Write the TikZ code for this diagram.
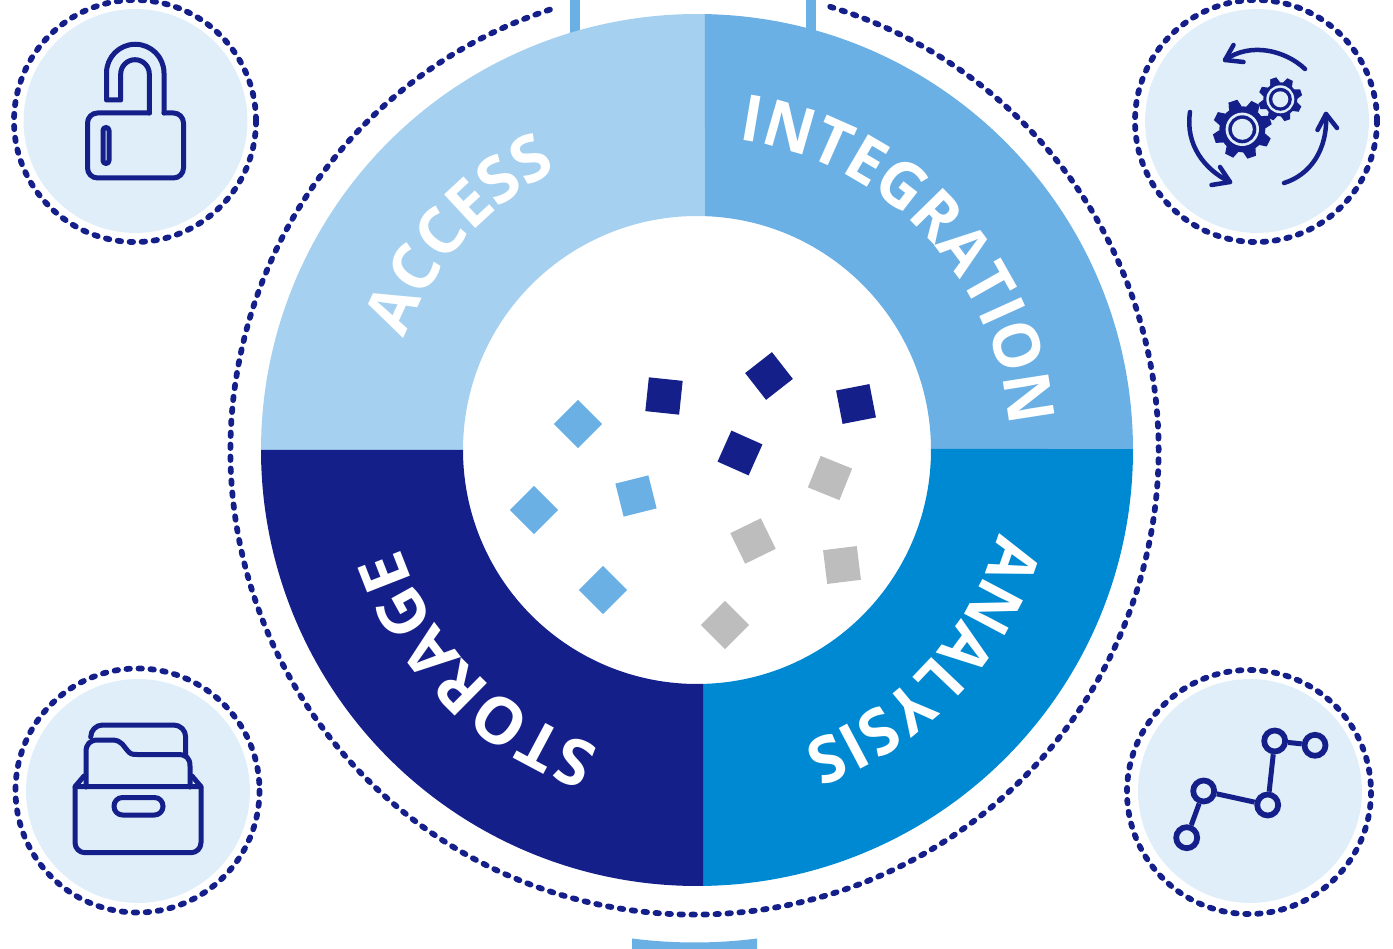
\documentclass[tikz,border=0pt]{standalone}
\usepackage{xcolor}
\usepackage{fontspec}
\usepackage{tikz}
\usetikzlibrary{calc,decorations.text}

\newfontfamily\ringfamily{Open Sans}
\newfontfamily\ringtight[FakeStretch=0.965]{Open Sans}
\newcommand{\ringtype}{\fontsize{36.6}{40}\ringfamily\bfseries\color{white}}
\newcommand{\ringtypetight}{\fontsize{36.6}{40}\ringtight\bfseries\color{white}}

\definecolor{navy}{HTML}{151F8A}
\definecolor{analysisblue}{HTML}{0089D3}
\definecolor{midblue}{HTML}{6BB0E4}
\definecolor{lightblue}{HTML}{A5D0F0}
\definecolor{pale}{HTML}{DFEEF8}
\definecolor{chipgray}{HTML}{BDBDBD}

\begin{document}
\begin{tikzpicture}[
    x=0.02cm, y=-0.02cm,
    badge/.style={circle, fill=pale, minimum size=4.48cm, inner sep=0pt},
    dotring/.style={draw=navy, line width=0.115cm, line cap=round, dash pattern=on 0.07cm off 0.17cm},
    chip/.style={rectangle, minimum size=0.68cm, inner sep=0pt},
    glyph/.style={draw=navy, line width=0.1cm, line cap=round, line join=round},
    hop/.style={circle, draw=navy, line width=0.115cm, minimum size=0.42cm, inner sep=0pt},
    ringlabel/.style={decorate, decoration={text along path, text align=center, text={#1}}}
]
\useasboundingbox (0,0) rectangle (1393,949);

\coordinate (hub) at (697,450);
\coordinate (dial) at (694.5,450.5);

% bars behind the ring
\fill[midblue] (570,0) rectangle (580,40);
\fill[midblue] (806,0) rectangle (816,40);
\fill[midblue] (632,949) -- ($(dial)+(97.3:492)$) arc[start angle=97.3,end angle=82.7,radius=492] -- (757,949) -- cycle;

% dotted ring
\draw[dotring] ($(dial)+(-73:464)$) arc[start angle=-73,end angle=252.2,radius=464];

% quadrants
\foreach \col/\oa/\ob/\ia/\ib in {lightblue/180/271.05/271.96/180, midblue/271.05/359.87/359.75/271.96, analysisblue/359.87/449.21/448.53/359.75, navy/449.21/540/540/448.53}
  \fill[\col] ($(hub)+(\oa:436)$) arc[start angle=\oa,end angle=\ob,radius=436] -- ($(hub)+(\ia:234)$) arc[start angle=\ia,end angle=\ib,radius=234] -- cycle;

% ring labels
\path[ringlabel={|\ringtype|ACCESS}] ($(hub)+(162.1:313)$) arc[start angle=162.1,end angle=282.1,radius=313];
\path[ringlabel={|\ringtypetight|INTEGRATION}] ($(hub)+(246.7:313)$) arc[start angle=246.7,end angle=386.7,radius=313];
\path[ringlabel={|\ringtypetight|ANALYSIS}] ($(hub)+(-17.2:313)$) arc[start angle=-17.2,end angle=102.8,radius=313];
\path[ringlabel={|\ringtype|STORAGE}] ($(hub)+(75:313)$) arc[start angle=75,end angle=195,radius=313];

% scattered chips
\foreach \col/\cx/\cy/\rot [count=\i] in {midblue/578/424/45, midblue/534/510/45, midblue/603/590/45, midblue/636/496/14,
    navy/664/396/-6, navy/769/376/38, navy/856/404/11, navy/740/453/-24,
    chipgray/830/478/-22, chipgray/753/541/26, chipgray/842/565/7, chipgray/725/625/45}
  \node[chip, fill=\col, rotate=\rot] (chip\i) at (\cx,\cy) {};

% badges
\node[badge] (lockbadge) at (135.5,121) {};
\node[badge] (gearbadge) at (1257,121) {};
\node[badge] (boxbadge) at (138,791) {};
\node[badge] (pathbadge) at (1250,791) {};
\draw[dotring] (135,121) circle[radius=121];
\draw[dotring] (1256,121) circle[radius=121];
\draw[dotring] (137.5,790.5) circle[radius=122];
\draw[dotring] (1249,792) circle[radius=122];

% lock
\draw[glyph, rounded corners=0.2cm] (149.5,113) -- (87.5,113) -- (87.5,178) -- (183.5,178) -- (183.5,113) -- (164,113);
\draw[glyph] (164,113) -- (164,73) arc[start angle=0,end angle=-180,radius=28.75] -- (106.5,100) -- (120.7,100) -- (120.7,74) arc[start angle=180,end angle=360,radius=14.3] -- (149.3,113);
\draw[glyph, rounded corners=0.06cm] (103,127.5) rectangle (109,163.5);

% gears
\foreach \gx/\gy/\rad/\ra/\rb/\rc/\tw/\tip in {1242.3/129.3/23/16.7/14/10.5/11/29.5, 1280.3/99.3/17/14/11.5/8/8/22} {
  \fill[navy] (\gx,\gy) circle[radius=\rad];
  \foreach \a in {18.5,63.5,...,378.5}
    \fill[navy, rotate around={\a:(\gx,\gy)}] ($(\gx,\gy)+(-\tw/2-1,-\rad+1)$) -- ($(\gx,\gy)+(-\tw/2+1,-\tip)$) -- ($(\gx,\gy)+(\tw/2-1,-\tip)$) -- ($(\gx,\gy)+(\tw/2+1,-\rad+1)$) -- cycle;
  \fill[pale] (\gx,\gy) circle[radius=\ra];
  \fill[navy] (\gx,\gy) circle[radius=\rb];
  \fill[pale] (\gx,\gy) circle[radius=\rc];
}
\draw[glyph, line width=0.09cm] (1305,69) .. controls (1285,50) and (1250,42) .. (1225,60);
\draw[glyph, line width=0.09cm] (1233.5,45) -- (1225,60) -- (1243.5,62);
\draw[glyph, line width=0.09cm] (1190,112) .. controls (1185,145) and (1205,170) .. (1230,182);
\draw[glyph, line width=0.09cm] (1220,167) -- (1230,182) -- (1211.5,185);
\draw[glyph, line width=0.09cm] (1284,183) .. controls (1310,175) and (1328,150) .. (1326,114);
\draw[glyph, line width=0.09cm] (1317.5,130) -- (1326,114) -- (1337,128);

% box with folders
\draw[glyph, rounded corners=0.24cm] (90.7,737) -- (90.7,725) -- (185.7,725) -- (185.7,756);
\draw[glyph] (86,787) -- (86,752) .. controls (86,744) and (90,740) .. (98,740) -- (112,740) .. controls (122,740) and (124,747) .. (127,750) .. controls (130,754) and (132,754.5) .. (137,754.5) -- (178,754.5) .. controls (186,754.5) and (190,758) .. (190,766) -- (190,787);
\draw[glyph] (84,776) -- (75,786.7) -- (201,786.7) -- (192,776);
\draw[glyph, rounded corners=0.2cm] (75,786.7) -- (75,852.7) -- (201,852.7) -- (201,786.7);
\draw[glyph, rounded corners=0.17cm] (114,797.5) rectangle (163,815);

% graph
\node[hop] (hopa) at (1186.7,837.7) {};
\node[hop] (hopb) at (1203.7,791) {};
\node[hop] (hopc) at (1267.7,805) {};
\node[hop] (hopd) at (1274.7,741) {};
\node[hop] (hope) at (1315,745.3) {};
\draw[draw=navy, line width=0.1cm] (hopa) -- (hopb) -- (hopc) -- (hopd) -- (hope);

\end{tikzpicture}
\end{document}
